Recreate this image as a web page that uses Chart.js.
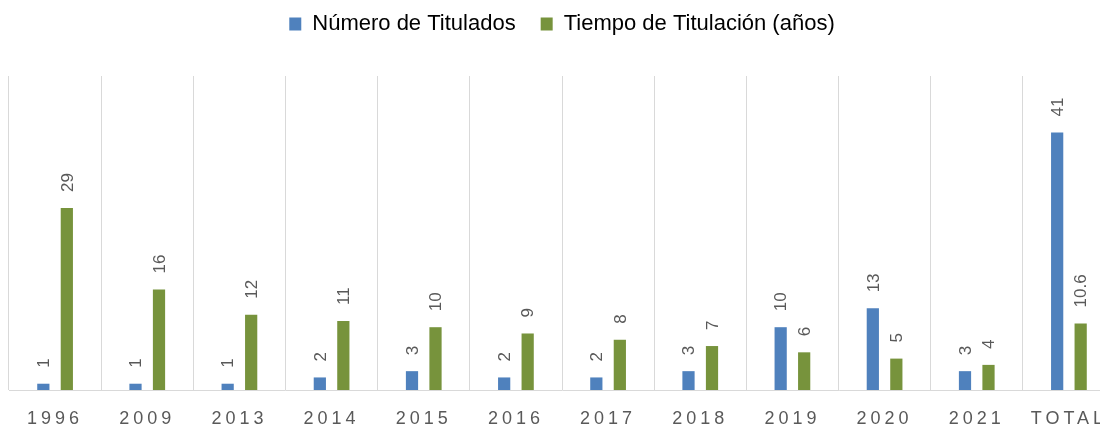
<!DOCTYPE html>
<html lang="es">
<head>
<meta charset="utf-8">
<title>Titulados por año</title>
<script src="https://cdn.jsdelivr.net/npm/chart.js@4/dist/chart.umd.min.js"></script>
<style>
  html, body { margin: 0; padding: 0; background: #fff; overflow: hidden; }
  #chart { display: block; }
</style>
</head>
<body>
<canvas id="chart" width="1138" height="428"></canvas>
<script>
/* ------------------ Data ------------------ */
const categories = ['1996', '2009', '2013', '2014', '2015', '2016', '2017', '2018', '2019', '2020', '2021', 'TOTAL'];
const titulados  = [1, 1, 1, 2, 3, 2, 2, 3, 10, 13, 3, 41];
const tiempo     = [29, 16, 12, 11, 10, 9, 8, 7, 6, 5, 4, 10.6];

const BLUE  = '#4f81bd';
const GREEN = '#77933c';
const GREY  = '#595959';
const FONT  = '"Liberation Sans", Arial, sans-serif';

/* ------------------ Plugins ------------------ */
// rotated value labels above each bar, then letter spacing for the x ticks (drawn at z=1)
const valueLabels = {
  id: 'valueLabels',
  afterDatasetsDraw(chart) {
    const ctx = chart.ctx;
    chart.data.datasets.forEach((ds, di) => {
      const meta = chart.getDatasetMeta(di);
      meta.data.forEach((bar, i) => {
        const v = ds.data[i];
        ctx.save();
        ctx.translate(bar.x + 1, bar.y - 16);
        ctx.rotate(-Math.PI / 2);
        ctx.font = '17px ' + FONT;
        ctx.fillStyle = GREY;
        ctx.textAlign = 'left';
        ctx.textBaseline = 'middle';
        ctx.fillText(String(v), 0, 0);
        ctx.restore();
      });
    });
    ctx.letterSpacing = '4px';
  },
  afterDraw(chart) {
    chart.ctx.letterSpacing = '0px';
  }
};

/* ------------------ Chart ------------------ */
new Chart(document.getElementById('chart'), {
  type: 'bar',
  data: {
    labels: categories,
    datasets: [
      { label: 'Número de Titulados', data: titulados, backgroundColor: BLUE, xAxisID: 'x', yAxisID: 'y' },
      { label: 'Tiempo de Titulación (años)', data: tiempo, backgroundColor: GREEN, xAxisID: 'x', yAxisID: 'y' }
    ]
  },
  options: {
    responsive: false,
    animation: false,
    categoryPercentage: 0.51,
    barPercentage: 0.52,
    layout: { padding: { top: -12, left: 9, right: 23, bottom: 0 } },
    plugins: {
      legend: {
        position: 'top',
        labels: {
          boxWidth: 12, boxHeight: 13, padding: 25,
          color: '#000',
          font: { family: FONT, size: 22 }
        }
      },
      tooltip: { enabled: false }
    },
    scales: {
      x: {
        position: 'bottom',
        grid: { color: '#d9d9d9', lineWidth: 1, drawTicks: false, offset: true },
        border: { color: '#d9d9d9' },
        ticks: { color: GREY, font: { family: FONT, size: 18 }, padding: 18, z: 1, maxRotation: 0, autoSkip: false },
        afterFit: (s) => { s.height = 38; }
      },
      xTop: {
        type: 'category',
        axis: 'x',
        position: 'top',
        grid: { display: false },
        border: { display: false },
        ticks: { display: false },
        afterFit: (s) => { s.height = 31; }
      },
      y: { display: false, min: 0, max: 50 }
    }
  },
  plugins: [valueLabels]
});
</script>
</body>
</html>
